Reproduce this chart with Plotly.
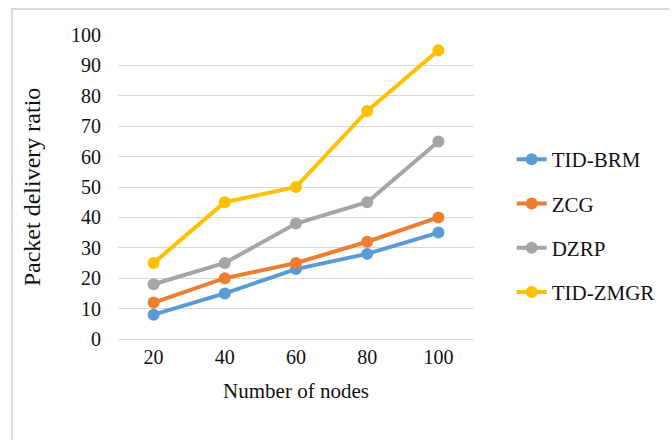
import plotly.graph_objects as go

# Packet delivery ratio vs. number of nodes
nodes = ["20", "40", "60", "80", "100"]
tid_brm = [8, 15, 23, 28, 35]
zcg = [12, 20, 25, 32, 40]
dzrp = [18, 25, 38, 45, 65]
tid_zmgr = [25, 45, 50, 75, 95]

series = [
    ("TID-BRM", tid_brm, "#5B9BD5"),
    ("ZCG", zcg, "#ED7D31"),
    ("DZRP", dzrp, "#A5A5A5"),
    ("TID-ZMGR", tid_zmgr, "#FFC000"),
]

W, H = 672, 440
L, R, T, B = 118, 195, 35, 101
FONT = "Liberation Serif"
TEXT = "#111111"


def px_x(px):
    return (px - L) / (W - L - R)


def px_y(py):
    return (H - B - py) / (H - T - B)


fig = go.Figure()
for name, vals, color in series:
    fig.add_trace(go.Scatter(
        x=nodes, y=vals, name=name, legendgroup=name,
        mode="lines+markers",
        line=dict(color=color, width=4),
        marker=dict(color=color, size=12),
    ))

# open frame: left and top edges
frame = dict(type="line", xref="paper", yref="paper",
             line=dict(color="#D9D9D9", width=2), layer="below")
fig.add_shape(**frame, x0=px_x(11), x1=px_x(11), y0=px_y(9), y1=px_y(H + 2))
fig.add_shape(**frame, x0=px_x(10), x1=px_x(W + 2), y0=px_y(9), y1=px_y(9))

tick_font = dict(family=FONT, size=20, color=TEXT)

fig.update_layout(
    width=W, height=H,
    margin=dict(l=L, r=R, t=T, b=B),
    paper_bgcolor="white", plot_bgcolor="white",
    font=dict(family=FONT, size=20, color=TEXT),
    showlegend=True,
    legend=dict(
        x=px_x(515), y=px_y(226), xanchor="left", yanchor="middle",
        font=dict(family=FONT, size=21, color=TEXT),
        tracegroupgap=14, bgcolor="rgba(0,0,0,0)",
    ),
    xaxis=dict(
        type="category", range=[-0.5, 4.5],
        showgrid=False, showline=False, zeroline=False,
        ticks="", ticklabelstandoff=4, tickfont=tick_font,
        title=dict(text="Number of nodes", standoff=16,
                   font=dict(family=FONT, size=21, color=TEXT)),
    ),
    yaxis=dict(
        range=[0, 100], dtick=10, tick0=0,
        showgrid=True, gridcolor="#D9D9D9", gridwidth=1,
        zeroline=True, zerolinecolor="#D9D9D9", zerolinewidth=1,
        showline=False, ticks="", ticklabelstandoff=16, tickfont=tick_font,
        title=dict(text="Packet delivery ratio", standoff=23,
                   font=dict(family=FONT, size=24, color=TEXT)),
    ),
)

fig.write_html("out.html")
